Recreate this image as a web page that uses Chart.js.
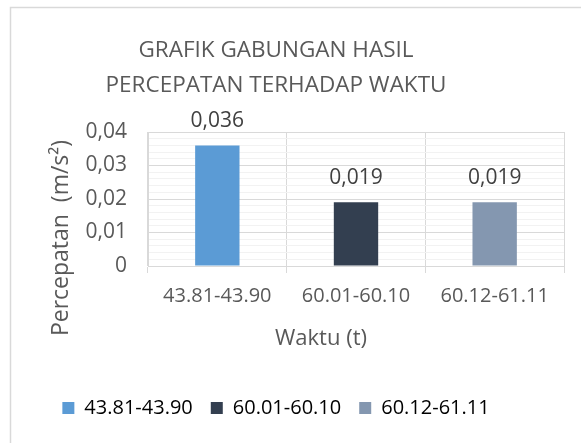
<!DOCTYPE html>
<html>
<head>
<meta charset="utf-8">
<script src="https://cdn.jsdelivr.net/npm/chart.js@4/dist/chart.umd.min.js"></script>
<style>
  html, body { margin: 0; padding: 0; background: #fff; }
  #wrap { width: 581px; height: 443px; }
</style>
</head>
<body>
<div id="wrap"><canvas id="myCanvas" width="581" height="443"></canvas></div>
<script>
// data
const categories = ['43.81-43.90', '60.01-60.10', '60.12-61.11'];
const values = [0.036, 0.019, 0.019];
const barColors = ['#5B9BD5', '#333F50', '#8497B0'];
const titleLines = ['GRAFIK GABUNGAN HASIL', 'PERCEPATAN TERHADAP WAKTU'];
const yTitle = 'Percepatan  (m/s\u00B2)';
const xTitle = 'Waktu (t)';

const FONT = '"Open Sans", "Noto Sans", sans-serif';
const GREY = '#595959';

const fmt = (v) => v === 0 ? '0' : String(v).replace('.', ',');

// frame, titles and value labels
const extras = {
  id: 'extras',
  afterLayout(chart) {
    // legend is centred on the chart box, not the canvas
    chart.legend.left -= 6;
    chart.legend.right -= 6;
  },
  beforeDraw(chart) {
    const c = chart.ctx;
    c.save();
    c.strokeStyle = '#D9D9D9';
    c.lineWidth = 1.5;
    c.strokeRect(10.5, 7.5, 1000, 1000);
    c.restore();
  },
  afterDraw(chart) {
    const c = chart.ctx;
    c.save();
    c.fillStyle = GREY;
    c.textAlign = 'center';
    c.textBaseline = 'alphabetic';
    c.font = '22.5px ' + FONT;
    c.fillText(titleLines[0], 276, 57);
    c.fillText(titleLines[1], 276, 92);

    c.font = '22px ' + FONT;
    c.fillText(xTitle, 321, 345);

    c.save();
    c.font = '23px ' + FONT;
    c.translate(68, 238);
    c.rotate(-Math.PI / 2);
    c.fillText(yTitle, 0, 0);
    c.restore();

    // value labels above bars
    c.fillStyle = '#404040';
    c.font = '21px ' + FONT;
    chart.getDatasetMeta(0).data.forEach((bar, i) => {
      c.fillText(fmt(values[i]), bar.x, bar.y - 18);
    });
    c.restore();
  }
};

const ctx = document.getElementById('myCanvas').getContext('2d');
const myChart = new Chart(ctx, {
  type: 'bar',
  data: {
    labels: categories,
    datasets: [{
      data: values,
      backgroundColor: barColors,
      barPercentage: 0.32,
      categoryPercentage: 1
    }]
  },
  options: {
    responsive: false,
    animation: false,
    layout: { padding: { top: 132, right: 17, bottom: 15, left: 0 } },
    plugins: {
      tooltip: { enabled: false },
      legend: {
        position: 'bottom',
        labels: {
          color: GREY,
          font: { family: FONT, size: 20 },
          boxWidth: 12,
          boxHeight: 12,
          padding: 18,
          generateLabels: () => categories.map((c, i) => ({
            text: c,
            fillStyle: barColors[i],
            strokeStyle: barColors[i],
            lineWidth: 0,
            hidden: false,
            index: i
          }))
        }
      }
    },
    scales: {
      x: {
        afterFit(scale) { scale.height = 114; },
        grid: { offset: true, color: '#D9D9D9', tickLength: 7, drawTicks: true },
        border: { color: '#D9D9D9' },
        ticks: { color: GREY, font: { family: FONT, size: 20 }, padding: 11 }
      },
      y: {
        min: 0,
        max: 0.04,
        afterFit(scale) { scale.width = 148; },
        grid: {
          drawTicks: false,
          color: (c) => Math.round(c.tick.value * 1000) % 10 === 0 ? '#D9D9D9' : '#F2F2F2'
        },
        border: { color: '#D9D9D9' },
        ticks: {
          stepSize: 0.002,
          autoSkip: false,
          padding: 21,
          color: GREY,
          font: { family: FONT, size: 21 },
          callback: (v) => Math.round(v * 1000) % 10 === 0 ? fmt(Math.round(v * 100) / 100) : ''
        }
      }
    }
  },
  plugins: [extras]
});
</script>
</body>
</html>
